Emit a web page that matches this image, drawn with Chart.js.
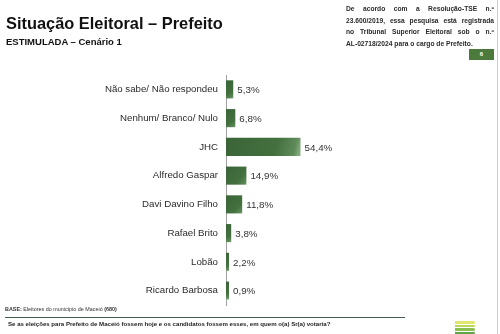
<!DOCTYPE html>
<html>
<head>
<meta charset="utf-8">
<script src="https://cdn.jsdelivr.net/npm/chart.js@4"></script>
<style>
  body { margin: 0; width: 500px; height: 334px; background: #fff; position: relative; overflow: hidden; font-family: "Liberation Sans", Arial, sans-serif; }
  #myChart { position: absolute; left: 0; top: 0; }
  .abs { position: absolute; white-space: nowrap; }
  #title { left: 6px; top: 14px; font-size: 16.4px; font-weight: bold; color: #111; }
  #sub { left: 6px; top: 36px; font-size: 9.5px; font-weight: bold; color: #111; }
  #note { left: 346px; top: 3px; width: 148px; font-size: 6.7px; font-weight: bold; color: #2a2a2a; line-height: 11.6px; }
  #note div { text-align: justify; text-align-last: justify; white-space: nowrap; }
  #note div.last { text-align-last: left; }
  #page { left: 469px; top: 49px; width: 25px; height: 11px; background: #4c7a3c; color: #fff; font-size: 6px; font-weight: bold; text-align: center; line-height: 11px; }
  #base { left: 5px; top: 306px; font-size: 5.4px; color: #333; }
  #rule { left: 5px; top: 317px; width: 400px; height: 1px; background: #44604a; }
  #q { left: 8px; top: 320px; font-size: 6.1px; font-weight: bold; color: #222; }
  #edge { left: 497px; top: 0; width: 1px; height: 334px; background: #ccc; }
  .stripe { position: absolute; left: 455px; width: 20px; height: 2.5px; border-radius: 0 2px 2px 0; }
</style>
</head>
<body>
<canvas id="myChart" width="500" height="334"></canvas>
<div class="abs" id="title">Situação Eleitoral – Prefeito</div>
<div class="abs" id="sub">ESTIMULADA – Cenário 1</div>
<div class="abs" id="note">
  <div>De acordo com a Resolução-TSE n.º</div>
  <div>23.600/2019, essa pesquisa está registrada</div>
  <div>no Tribunal Superior Eleitoral sob o n.º</div>
  <div class="last">AL-02718/2024 para o cargo de Prefeito.</div>
</div>
<div class="abs" id="page">6</div>
<div class="abs" id="base"><b>BASE:</b> Eleitores do município de Maceió <b>(680)</b></div>
<div class="abs" id="rule"></div>
<div class="abs" id="q">Se as eleições para Prefeito de Maceió fossem hoje e os candidatos fossem esses, em quem o(a) Sr(a) votaria?</div>
<div class="abs" id="edge"></div>
<div class="stripe" style="top:321px;background:#dfe86a"></div>
<div class="stripe" style="top:324.5px;background:#b9d85a"></div>
<div class="stripe" style="top:328px;background:#8cc04e"></div>
<div class="stripe" style="top:331.5px;background:#5fa447"></div>
<script>
const ctx = document.getElementById('myChart');

const candidatos = ['Não sabe/ Não respondeu', 'Nenhum/ Branco/ Nulo', 'JHC', 'Alfredo Gaspar',
  'Davi Davino Filho', 'Rafael Brito', 'Lobão', 'Ricardo Barbosa'];
const votos = [5.3, 6.8, 54.4, 14.9, 11.8, 3.8, 2.2, 0.9];

function barColor(c) {
  const chart = c.chart;
  if (!chart.chartArea || !chart.scales.x) return '#3f6b3d';
  const x = chart.scales.x;
  const y = chart.scales.y;
  const x0 = x.getPixelForValue(0);
  const x1 = x.getPixelForValue(c.raw) + 2;
  const yc = y.getPixelForValue(c.dataIndex);
  const g = chart.ctx.createLinearGradient(x0, yc - 9, x1, yc + 9);
  g.addColorStop(0, '#3a6437');
  g.addColorStop(0.65, '#44703f');
  g.addColorStop(0.88, '#5f8a59');
  g.addColorStop(1, '#9fbe98');
  return g;
}

const valueLabels = {
  id: 'valueLabels',
  afterDatasetsDraw(chart) {
    const c = chart.ctx;
    const meta = chart.getDatasetMeta(0);
    c.save();
    c.font = '9.8px "Liberation Sans", Arial, sans-serif';
    c.fillStyle = '#333';
    c.textBaseline = 'middle';
    meta.data.forEach((bar, i) => {
      c.fillText(votos[i].toFixed(1).replace('.', ',') + '%', bar.x + 4, bar.y + 1);
    });
    c.restore();
  }
};

new Chart(ctx, {
  type: 'bar',
  data: {
    labels: candidatos,
    datasets: [{
      data: votos,
      backgroundColor: barColor,
      borderWidth: 0,
      barPercentage: 0.63,
      categoryPercentage: 1,
      minBarLength: 3
    }]
  },
  options: {
    indexAxis: 'y',
    responsive: false,
    animation: false,
    layout: { padding: { top: 75, bottom: 29, left: 0, right: 0 } },
    plugins: { legend: { display: false }, tooltip: { enabled: false } },
    scales: {
      x: {
        display: false,
        min: 0,
        max: 200
      },
      y: {
        afterFit(scale) { scale.width = 226; },
        grid: { display: false, drawTicks: false },
        border: { display: true, color: '#a0a0a0', width: 1 },
        ticks: {
          color: '#2a2a2a',
          padding: 8,
          font: { family: '"Liberation Sans", Arial, sans-serif', size: 9.7 }
        }
      }
    }
  },
  plugins: [valueLabels]
});
</script>
</body>
</html>
